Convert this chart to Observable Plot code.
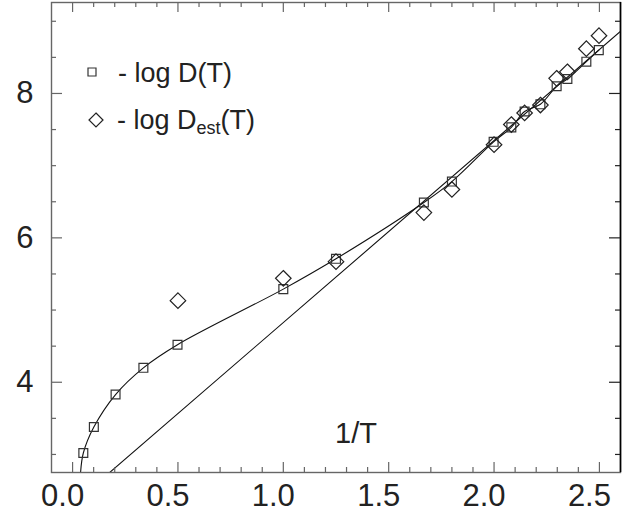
<!DOCTYPE html>
<html><head><meta charset="utf-8">
<script src="https://cdn.jsdelivr.net/npm/d3@7"></script>
<script src="https://cdn.jsdelivr.net/npm/@observablehq/plot@0.6"></script>
<style>body{margin:0;background:#fff}</style>
</head><body><div id="chart"></div>
<script>
// data
const squareX = [0.051, 0.101, 0.204, 0.336, 0.498, 1.0, 1.25, 1.667, 1.80, 1.998, 2.082, 2.145, 2.22, 2.297, 2.348, 2.438, 2.497];
const squareY = [3.02, 3.38, 3.83, 4.20, 4.52, 5.29, 5.71, 6.49, 6.78, 7.33, 7.53, 7.75, 7.85, 8.10, 8.20, 8.44, 8.60];
const diamondX = [0.50, 1.0, 1.25, 1.667, 1.80, 2.0, 2.082, 2.145, 2.22, 2.297, 2.348, 2.438, 2.498];
const diamondY = [5.13, 5.44, 5.67, 6.35, 6.67, 7.29, 7.57, 7.73, 7.84, 8.21, 8.30, 8.62, 8.80];
const fitStartX = [0.038];
const fitStartY = [2.75];
const lineX = [0.176, 2.6];
const lineY = [2.75, 8.86];
const xDomain = [-0.1, 2.6];
const yDomain = [2.75, 9.26];
const xTicks = [0, 0.5, 1.0, 1.5, 2.0, 2.5];
const xMinor = [0.1,0.2,0.3,0.4,0.6,0.7,0.8,0.9,1.1,1.2,1.3,1.4,1.6,1.7,1.8,1.9,2.1,2.2,2.3,2.4];
const yTicks = [4, 6, 8];
const yMinor = [3, 3.5, 4.5, 5, 5.5, 6.5, 7, 7.5, 8.5, 9];
const legendLabels = ["- log D(T)", "- log D", "est", "(T)"];
const xLabel = "1/T";

const squares = squareX.map((x, i) => ({x, y: squareY[i]}));
const diamonds = diamondX.map((x, i) => ({x, y: diamondY[i]}));
const fit = fitStartX.map((x, i) => ({x, y: fitStartY[i]})).concat(squares);
const straight = lineX.map((x, i) => ({x, y: lineY[i]}));

const W = 643, H = 514, mL = 51, mR = 23, mT = 2, mB = 42;
const iw = W - mL - mR, ih = H - mT - mB;
const axisCol = "#666", ink = "#222";

const plot = Plot.plot({
  width: W, height: H,
  marginLeft: mL, marginRight: mR, marginTop: mT, marginBottom: mB,
  style: {fontFamily: "'Liberation Sans', Arial, sans-serif", background: "#fff", color: ink},
  x: {domain: xDomain},
  y: {domain: yDomain},
  marks: [
    Plot.line(straight, {x: "x", y: "y", stroke: "#111", strokeWidth: 1.1, clip: true}),
    Plot.line(fit, {x: "x", y: "y", stroke: "#111", strokeWidth: 1.1, curve: "catmull-rom", clip: true}),
    Plot.dot(squares, {x: "x", y: "y", symbol: "square", r: 5, stroke: "#333", strokeWidth: 1.2, fill: "none"}),
    Plot.dot(diamonds, {x: "x", y: "y", symbol: "diamond2", r: 7, stroke: "#222", strokeWidth: 1.2, fill: "none"}),
    // inward ticks: bottom / top
    Plot.ruleX(xTicks, {insetTop: ih - 10, stroke: axisCol, strokeWidth: 1.2}),
    Plot.ruleX(xMinor, {insetTop: ih - 5, stroke: axisCol, strokeWidth: 1.2}),
    Plot.ruleX(xTicks, {insetBottom: ih - 10, stroke: axisCol, strokeWidth: 1.2}),
    Plot.ruleX(xMinor, {insetBottom: ih - 5, stroke: axisCol, strokeWidth: 1.2}),
    // left / right
    Plot.ruleY(yTicks, {insetRight: iw - 11, stroke: axisCol, strokeWidth: 1.2}),
    Plot.ruleY(yMinor, {insetRight: iw - 5, stroke: axisCol, strokeWidth: 1.2}),
    Plot.ruleY(yTicks, {insetLeft: iw - 11, stroke: "#222", strokeWidth: 1.2}),
    Plot.ruleY(yMinor, {insetLeft: iw - 5, stroke: "#222", strokeWidth: 1.2}),
    Plot.frame({stroke: axisCol, strokeWidth: 1.4}),
    Plot.ruleX([xDomain[1]], {stroke: "#000", strokeWidth: 1.6}),
    Plot.axisX(xTicks, {tickSize: 0, tickPadding: 11, fontSize: 31, dx: -10, tickFormat: d3.format(".1f"), label: null, fill: ink}),
    Plot.axisY(yTicks, {tickSize: 0, tickPadding: 18, fontSize: 31, tickFormat: d3.format("d"), label: null, fill: ink}),
    Plot.text([xLabel], {text: d => d, frameAnchor: "bottom", dx: 20, dy: -30, fontSize: 29, fill: ink, textAnchor: "middle", lineAnchor: "bottom"})
  ]
});
document.getElementById("chart").appendChild(plot);

// legend
const svg = d3.select(plot);
const g = svg.append("g").attr("fill", "none");
g.append("path").attr("d", d3.symbol(d3.symbolSquare, 64)()).attr("transform", "translate(92,72)").attr("stroke", "#333").attr("stroke-width", 1.2);
g.append("path").attr("d", d3.symbol(d3.symbolDiamond2, 125)()).attr("transform", "translate(96,120)").attr("stroke", "#222").attr("stroke-width", 1.2);
const t = svg.append("g").attr("fill", ink).attr("text-anchor", "start")
  .attr("font-family", "'Liberation Sans', Arial, sans-serif").attr("font-size", 27);
t.append("text").attr("x", 118).attr("y", 82).text(legendLabels[0]);
const t2 = t.append("text").attr("x", 117).attr("y", 129);
t2.append("tspan").text(legendLabels[1]);
t2.append("tspan").attr("font-size", 18).attr("dy", 5).text(legendLabels[2]);
t2.append("tspan").attr("dy", -5).text(legendLabels[3]);
</script>
</body></html>
